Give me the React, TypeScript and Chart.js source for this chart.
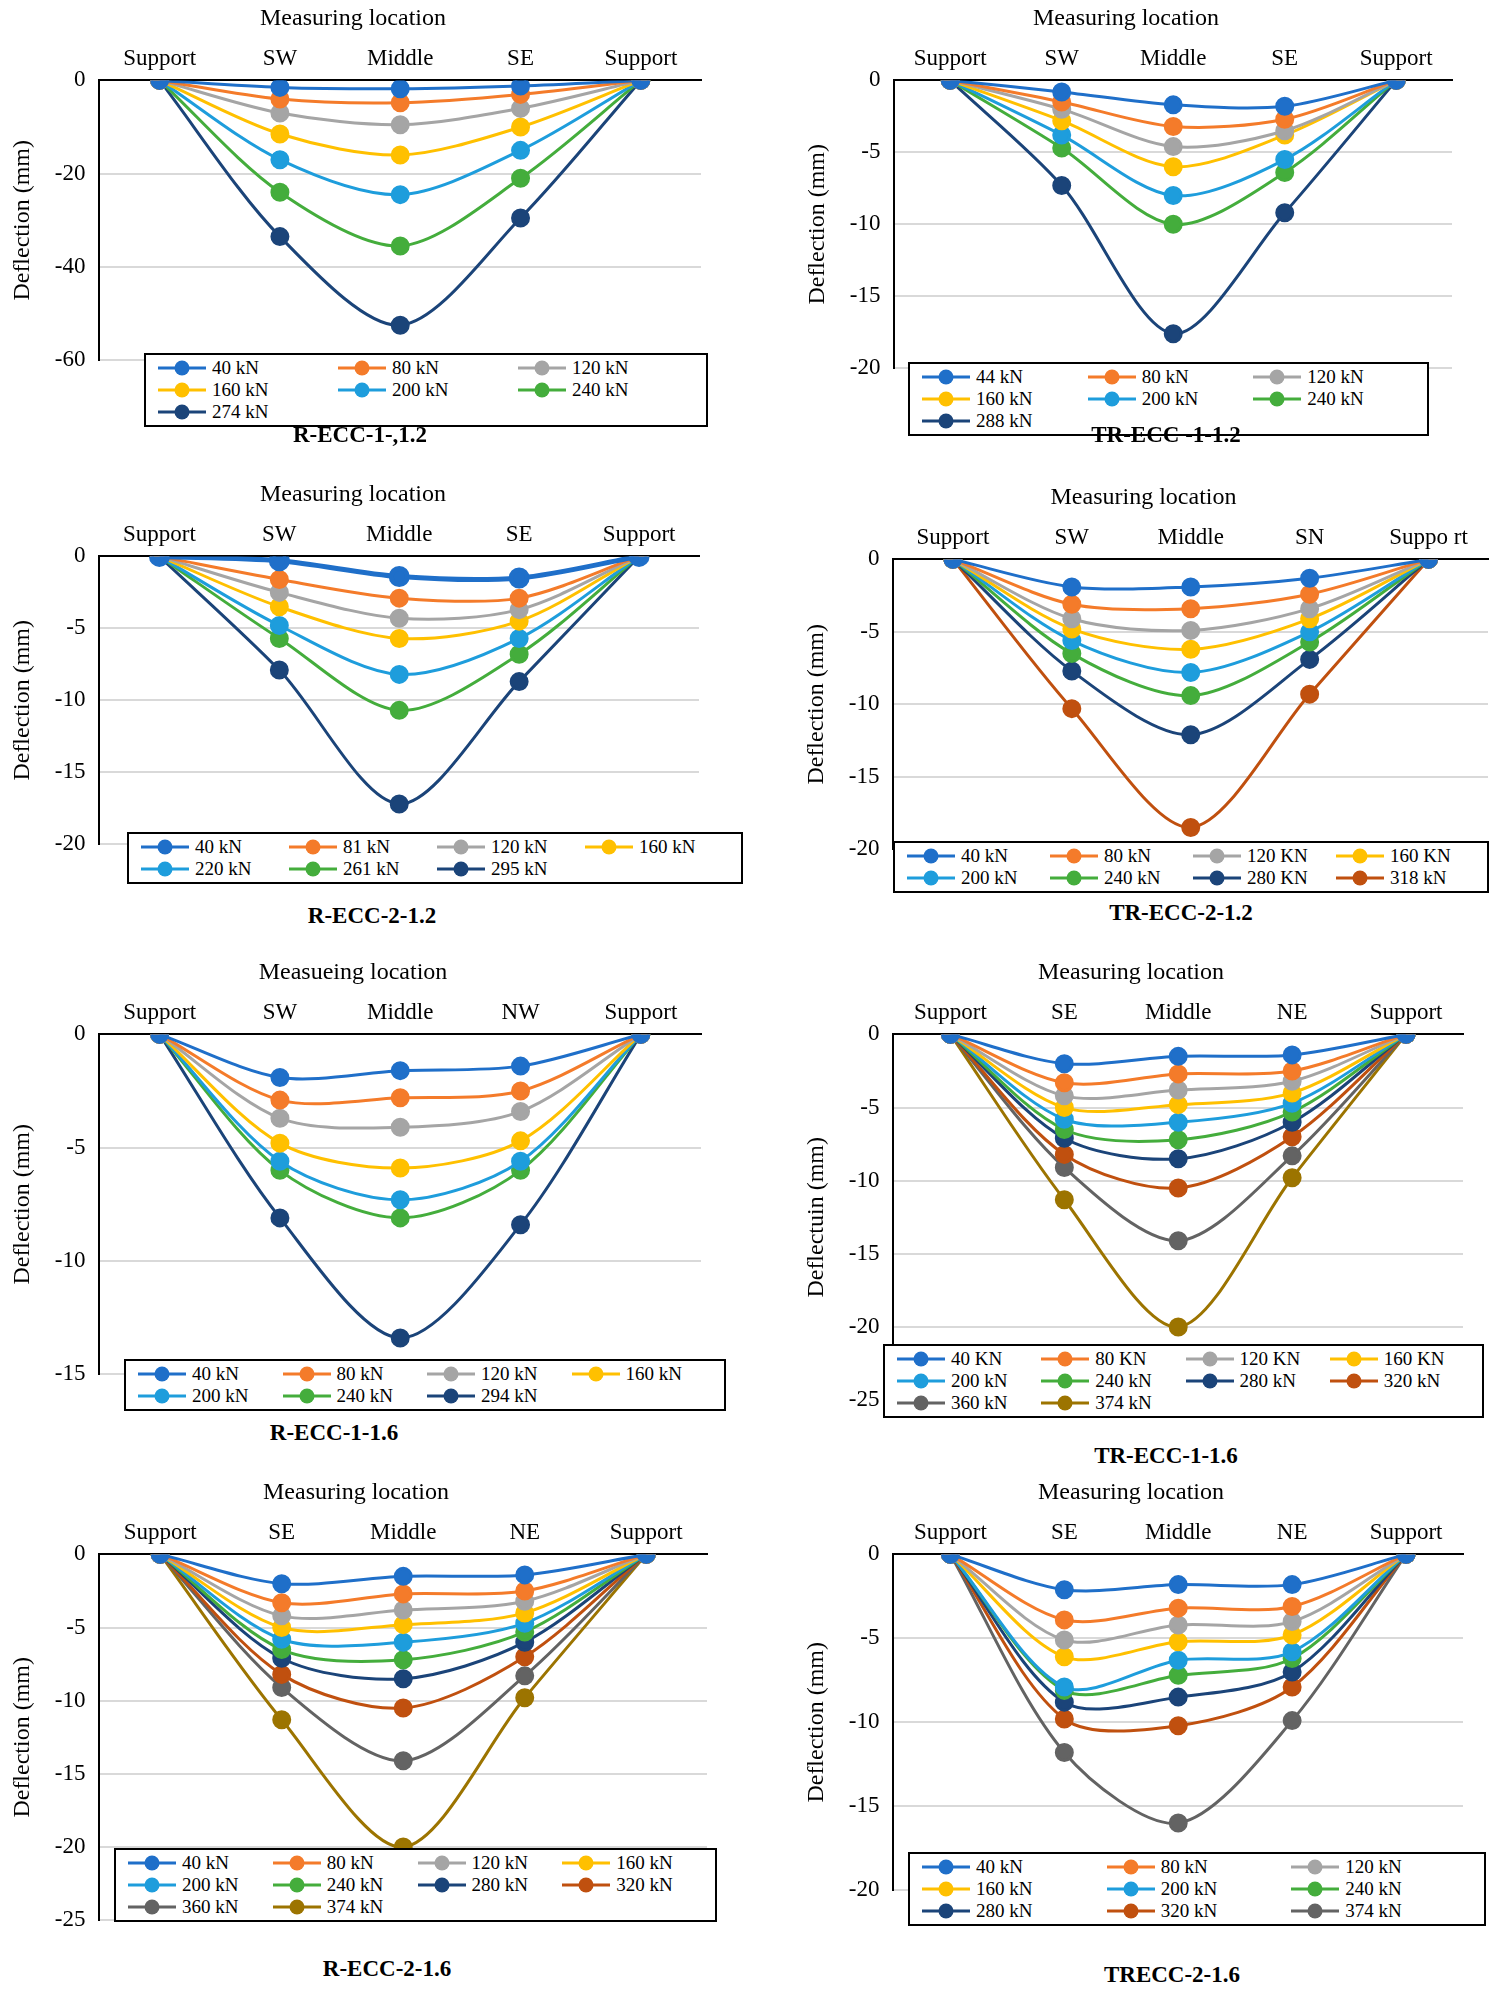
import React, { useEffect, useRef } from "react";
import { Chart, registerables } from "chart.js";
Chart.register(...registerables);

const C40 = "#1f6fc9", C80 = "#f47b2a", C120 = "#a5a5a5", C160 = "#ffc000", C200 = "#1e9ddc", C240 = "#44ad3c", CNAVY = "#1b4479", CRUST = "#c0500f", CDGREY = "#636363", CGOLD = "#9c7400";

const locA = ["Support", "SW", "Middle", "SE", "Support"];
const locB = ["Support", "SW", "Middle", "SN", "Suppo rt"];
const locC = ["Support", "SW", "Middle", "NW", "Support"];
const locD = ["Support", "SE", "Middle", "NE", "Support"];

// Panel 1: R-ECC-1-,1.2
const p1Loads = ["40 kN", "80 kN", "120 kN", "160 kN", "200 kN", "240 kN", "274 kN"];
const p1Vals = [
  [0, -1.5, -1.8, -1.2, 0],
  [0, -4, -4.8, -3, 0],
  [0, -7, -9.5, -6, 0],
  [0, -11.5, -16, -10, 0],
  [0, -17, -24.5, -15, 0],
  [0, -24, -35.5, -21, 0],
  [0, -33.5, -52.5, -29.5, 0],
];
// Panel 2: TR-ECC -1-1.2
const p2Loads = ["44 kN", "80 kN", "120 kN", "160 kN", "200 kN", "240 kN", "288 kN"];
const p2Vals = [
  [0, -0.8, -1.7, -1.8, 0],
  [0, -1.5, -3.2, -2.7, 0],
  [0, -2, -4.6, -3.5, 0],
  [0, -2.8, -6, -3.8, 0],
  [0, -3.8, -8, -5.5, 0],
  [0, -4.7, -10, -6.4, 0],
  [0, -7.3, -17.6, -9.2, 0],
];
// Panel 3: R-ECC-2-1.2
const p3Loads = ["40 kN", "81 kN", "120 kN", "160 kN", "220 kN", "261 kN", "295 kN"];
const p3Vals = [
  [0, -0.3, -1.4, -1.5, 0],
  [0, -1.6, -2.9, -2.9, 0],
  [0, -2.5, -4.3, -3.7, 0],
  [0, -3.5, -5.7, -4.5, 0],
  [0, -4.8, -8.2, -5.7, 0],
  [0, -5.7, -10.7, -6.8, 0],
  [0, -7.9, -17.2, -8.7, 0],
];
// Panel 4: TR-ECC-2-1.2
const p4Loads = ["40 kN", "80 kN", "120 KN", "160 KN", "200 kN", "240 kN", "280 KN", "318 kN"];
const p4Vals = [
  [0, -1.9, -1.9, -1.3, 0],
  [0, -3.1, -3.4, -2.4, 0],
  [0, -4.1, -4.9, -3.4, 0],
  [0, -4.8, -6.2, -4.1, 0],
  [0, -5.6, -7.8, -5, 0],
  [0, -6.5, -9.4, -5.7, 0],
  [0, -7.7, -12.1, -6.9, 0],
  [0, -10.3, -18.5, -9.3, 0],
];
// Panel 5: R-ECC-1-1.6
const p5Loads = ["40 kN", "80 kN", "120 kN", "160 kN", "200 kN", "240 kN", "294 kN"];
const p5Vals = [
  [0, -1.9, -1.6, -1.4, 0],
  [0, -2.9, -2.8, -2.5, 0],
  [0, -3.7, -4.1, -3.4, 0],
  [0, -4.8, -5.9, -4.7, 0],
  [0, -5.6, -7.3, -5.6, 0],
  [0, -6, -8.1, -6, 0],
  [0, -8.1, -13.4, -8.4, 0],
];
// Panel 6: TR-ECC-1-1.6
const p6Loads = ["40 KN", "80 KN", "120 KN", "160 KN", "200 kN", "240 kN", "280 kN", "320 kN", "360 kN", "374 kN"];
const p6Vals = [
  [0, -2, -1.5, -1.4, 0],
  [0, -3.3, -2.7, -2.5, 0],
  [0, -4.2, -3.8, -3.2, 0],
  [0, -5, -4.8, -4, 0],
  [0, -5.8, -6, -4.7, 0],
  [0, -6.5, -7.2, -5.3, 0],
  [0, -7.1, -8.5, -6, 0],
  [0, -8.2, -10.5, -7, 0],
  [0, -9.1, -14.1, -8.3, 0],
  [0, -11.3, -20, -9.8, 0],
];
// Panel 7: R-ECC-2-1.6
const p7Loads = ["40 kN", "80 kN", "120 kN", "160 kN", "200 kN", "240 kN", "280 kN", "320 kN", "360 kN", "374 kN"];
const p7Vals = p6Vals.map((r) => r.slice());
// Panel 8: TRECC-2-1.6
const p8Loads = ["40 kN", "80 kN", "120 kN", "160 kN", "200 kN", "240 kN", "280 kN", "320 kN", "374 kN"];
const p8Vals = [
  [0, -2.1, -1.8, -1.8, 0],
  [0, -3.9, -3.2, -3.1, 0],
  [0, -5.1, -4.2, -4, 0],
  [0, -6.1, -5.2, -4.8, 0],
  [0, -7.9, -6.3, -5.8, 0],
  [0, -8.1, -7.2, -6.2, 0],
  [0, -8.8, -8.5, -7, 0],
  [0, -9.8, -10.2, -7.9, 0],
  [0, -11.8, -16, -9.9, 0],
];

const col7 = [C40, C80, C120, C160, C200, C240, CNAVY];
const col8 = [C40, C80, C120, C160, C200, C240, CNAVY, CRUST];
const col10 = [C40, C80, C120, C160, C200, C240, CNAVY, CRUST, CDGREY, CGOLD];
const col9 = [C40, C80, C120, C160, C200, C240, CNAVY, CRUST, CDGREY];

const FONT = "'Liberation Serif', 'Times New Roman', serif";

type P = {
  title: string; yLabel: string; locs: string[]; loads: string[]; vals: number[][]; colors: string[];
  min: number; step: number; caption: string;
  cx: number; cy: number; cw: number; ch: number;
  lx: number; ly: number; lw: number; cols: number; capX: number; capY: number; thick0?: boolean;
};

const panels: P[] = [
  { title: "Measuring location", yLabel: "Deflection (mm)", locs: locA, loads: p1Loads, vals: p1Vals, colors: col7, min: -60, step: 20, caption: "R-ECC-1-,1.2", cx: 0, cy: 4, cw: 712, ch: 384, lx: 144, ly: 353, lw: 564, cols: 3, capX: 360, capY: 434 },
  { title: "Measuring location", yLabel: "Deflection (mm)", locs: locA, loads: p2Loads, vals: p2Vals, colors: col7, min: -20, step: 5, caption: "TR-ECC -1-1.2", cx: 795, cy: 4, cw: 668, ch: 392, lx: 908, ly: 362, lw: 521, cols: 3, capX: 1166, capY: 434 },
  { title: "Measuring location", yLabel: "Deflection (mm)", locs: locA, loads: p3Loads, vals: p3Vals, colors: col7, min: -20, step: 5, caption: "R-ECC-2-1.2", cx: 0, cy: 480, cw: 712, ch: 392, lx: 127, ly: 832, lw: 616, cols: 4, capX: 372, capY: 915, thick0: true },
  { title: "Measuring location", yLabel: "Deflection (mm)", locs: locB, loads: p4Loads, vals: p4Vals, colors: col8, min: -20, step: 5, caption: "TR-ECC-2-1.2", cx: 794, cy: 483, cw: 705, ch: 394, lx: 893, ly: 841, lw: 596, cols: 4, capX: 1181, capY: 912 },
  { title: "Measueing location", yLabel: "Deflection (mm)", locs: locC, loads: p5Loads, vals: p5Vals, colors: col7, min: -15, step: 5, caption: "R-ECC-1-1.6", cx: 0, cy: 958, cw: 712, ch: 444, lx: 124, ly: 1359, lw: 602, cols: 4, capX: 334, capY: 1432 },
  { title: "Measuring location", yLabel: "Deflectuin (mm)", locs: locD, loads: p6Loads, vals: p6Vals, colors: col10, min: -25, step: 5, caption: "TR-ECC-1-1.6", cx: 794, cy: 958, cw: 680, ch: 470, lx: 883, ly: 1344, lw: 601, cols: 4, capX: 1166, capY: 1455 },
  { title: "Measuring location", yLabel: "Deflection (mm)", locs: locD, loads: p7Loads, vals: p7Vals, colors: col10, min: -25, step: 5, caption: "R-ECC-2-1.6", cx: 0, cy: 1478, cw: 718, ch: 470, lx: 114, ly: 1848, lw: 603, cols: 4, capX: 387, capY: 1968 },
  { title: "Measuring location", yLabel: "Deflection (mm)", locs: locD, loads: p8Loads, vals: p8Vals, colors: col9, min: -20, step: 5, caption: "TRECC-2-1.6", cx: 794, cy: 1478, cw: 680, ch: 440, lx: 908, ly: 1852, lw: 578, cols: 3, capX: 1172, capY: 1974 },
];

function Panel({ p }: { p: P }) {
  const ref = useRef<HTMLCanvasElement>(null);
  useEffect(() => {
    const chart = new Chart(ref.current!, {
      type: "line",
      data: {
        labels: p.locs,
        datasets: p.loads.map((l, i) => ({
          label: l,
          data: p.vals[i],
          borderColor: p.colors[i],
          backgroundColor: p.colors[i],
          pointBackgroundColor: p.colors[i],
          pointBorderColor: p.colors[i],
          borderWidth: p.thick0 && i === 0 ? 5 : 3,
          pointRadius: 8,
          tension: 0.3,
          fill: false,
        })),
      },
      options: {
        animation: false,
        responsive: false,
        plugins: {
          legend: { display: false },
          tooltip: { enabled: false },
          title: { display: true, text: p.title, color: "#000", font: { family: FONT, size: 24, weight: "normal" }, padding: { top: 0, bottom: 4 } },
        },
        layout: { padding: { right: 10, left: 4 } },
        scales: {
          x: {
            position: "top",
            offset: true,
            grid: { display: false, drawTicks: false },
            border: { color: "#000", width: 2 },
            ticks: { color: "#000", font: { family: FONT, size: 23 }, padding: 8, maxRotation: 0 },
          },
          y: {
            min: p.min,
            max: 0,
            ticks: { stepSize: p.step, color: "#000", font: { family: FONT, size: 23 }, padding: 14 },
            grid: { color: "#d9d9d9", lineWidth: 2, drawTicks: false },
            border: { color: "#000", width: 2 },
            title: { display: true, text: p.yLabel, color: "#000", font: { family: FONT, size: 24 } },
          },
        },
      },
    });
    return () => chart.destroy();
  }, []);
  return (
    <>
      <canvas ref={ref} width={p.cw} height={p.ch} style={{ position: "absolute", left: p.cx, top: p.cy }} />
      <div style={{ position: "absolute", left: p.lx, top: p.ly, width: p.lw, boxSizing: "border-box", border: "2px solid #000", background: "#fff", padding: "2px 10px", display: "grid", gridTemplateColumns: `repeat(${p.cols}, 1fr)`, fontFamily: FONT, fontSize: 19, lineHeight: "22px" }}>
        {p.loads.map((l, i) => (
          <div key={i} style={{ display: "flex", alignItems: "center", whiteSpace: "nowrap" }}>
            <svg width={52} height={18} style={{ marginRight: 4 }}>
              <line x1={2} y1={9} x2={50} y2={9} stroke={p.colors[i]} strokeWidth={3} />
              <circle cx={26} cy={9} r={7.5} fill={p.colors[i]} />
            </svg>
            {l}
          </div>
        ))}
      </div>
      <div style={{ position: "absolute", left: p.capX - 150, width: 300, top: p.capY - 12, textAlign: "center", fontFamily: FONT, fontWeight: "bold", fontSize: 23 }}>{p.caption}</div>
    </>
  );
}

export default function App() {
  return (
    <div style={{ position: "relative", width: 1501, height: 1998, margin: -8, background: "#fff" }}>
      {panels.map((p, i) => <Panel key={i} p={p} />)}
    </div>
  );
}
